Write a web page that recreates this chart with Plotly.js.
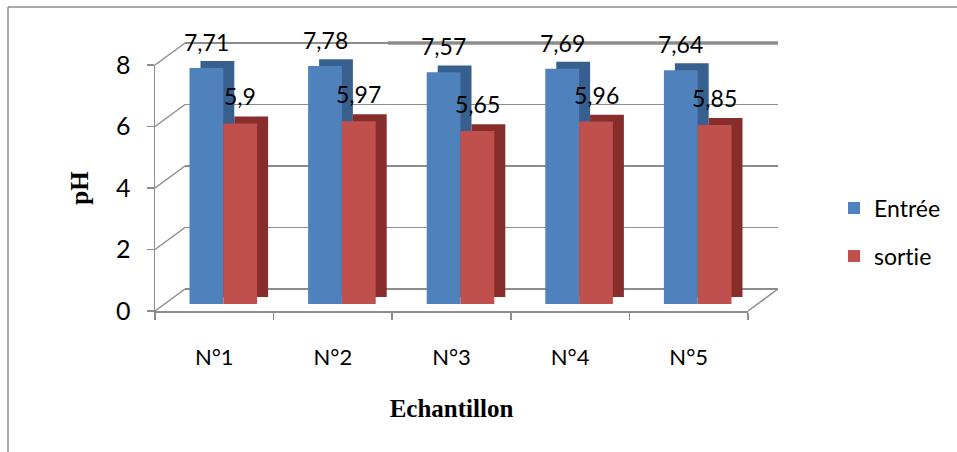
<!DOCTYPE html>
<html><head><meta charset="utf-8">
<script src="https://cdn.plot.ly/plotly-3.0.1.min.js"></script>
<style>html,body{margin:0;padding:0;background:#fff}#chart{width:957px;height:452px}
svg text{font-variant-ligatures:none;font-feature-settings:"liga" 0, "clig" 0;}</style>
</head><body><div id="chart"></div>
<script>
const categories = ['N°1', 'N°2', 'N°3', 'N°4', 'N°5'];
const entree = [7.71, 7.78, 7.57, 7.69, 7.64];
const sortie = [5.9, 5.97, 5.65, 5.96, 5.85];
const seriesNames = ['Entrée', 'sortie'];
const yTicks = [0, 2, 4, 6, 8];

const W = 957, H = 452;
const px = x => x / W, py = y => 1 - y / H;
// pseudo-3D geometry (pixels)
const front = {l: 155, r: 748, y0: 311, yTop: 65};
const back = {dx: 30, dy: 22};
const plane = {dx: 9, dy: 7};
const yMax = 8;
const unit = (front.y0 - front.yTop) / yMax;

const gridColor = '#8c8c8c';
const font = 'Lato, "Open Sans", sans-serif';
const serif = '"Liberation Serif", "Times New Roman", serif';
const colors = {entree: '#4f81bd', entreeSide: '#37608f', sortie: '#c0504d', sortieSide: '#872e2c'};

const bw = 0.285;                       // bar width (category units)
const catPx = (front.r - front.l) / categories.length;
const sideDx = 11 / catPx;              // depth offset of side face
const sideDy = 7 / unit;                // depth offset of top face

const fmt = v => String(v).replace('.', ',');

function shadow(vals, off, color) {
  return {type: 'bar', x: categories, y: vals, base: vals.map(() => sideDy),
    offset: off + sideDx, width: bw, xaxis: 'x3', yaxis: 'y3',
    marker: {color: color, line: {width: 0}}, showlegend: false, hoverinfo: 'skip'};
}
// empty traces so that the back-wall and front-axis subplots are drawn
const axisHolder = (xa, ya) => ({type: 'scatter', mode: 'markers', x: [], y: [], xaxis: xa, yaxis: ya,
  showlegend: false, hoverinfo: 'skip'});

const traces = [
  axisHolder('x', 'y'),
  axisHolder('x2', 'y2'),
  shadow(entree, -bw, colors.entreeSide),
  {type: 'bar', name: seriesNames[0], x: categories, y: entree, offset: -bw, width: bw,
   xaxis: 'x3', yaxis: 'y3', marker: {color: colors.entree, line: {width: 0}}, legend: 'legend'},
  shadow(sortie, 0, colors.sortieSide),
  {type: 'bar', name: seriesNames[1], x: categories, y: sortie, offset: 0, width: bw,
   xaxis: 'x3', yaxis: 'y3', marker: {color: colors.sortie, line: {width: 0}}, legend: 'legend2'}
];

const annotations = [];
categories.forEach((c, i) => {
  annotations.push({xref: 'x3', yref: 'y3', x: i - bw / 2, y: entree[i], text: fmt(entree[i]),
    showarrow: false, yanchor: 'middle', yshift: 26, font: {family: font, size: 23, color: '#000'}});
  annotations.push({xref: 'x3', yref: 'y3', x: i + bw / 2, y: sortie[i], text: fmt(sortie[i]),
    showarrow: false, yanchor: 'middle', yshift: 27, font: {family: font, size: 23, color: '#000'}});
});

const line = (x0, y0, x1, y1, w, c) => ({type: 'line', xref: 'paper', yref: 'paper', layer: 'below',
  x0: px(x0), y0: py(y0), x1: px(x1), y1: py(y1), line: {color: c || gridColor, width: w || 1.5}});
const shapes = [];
yTicks.forEach(v => {
  const fy = front.y0 - v * unit;
  shapes.push(line(front.l, fy, front.l + back.dx, fy - back.dy));
});
shapes.push(line(front.r, front.y0, front.r + back.dx, front.y0 - back.dy));
shapes.push(line(388, front.yTop - back.dy, front.r + back.dx, front.yTop - back.dy, 3.5, '#8f8f8f'));
// outer frame
shapes.push(line(8, 7, 8, 452, 1.5, '#8c8c8c'));
shapes.push(line(8, 7, 957, 7, 1.5, '#8c8c8c'));

// back wall axis padded so that the edge gridlines are kept
const pad = 0.3;
const layout = {
  width: W, height: H, autosize: false,
  margin: {l: 0, r: 0, t: 0, b: 0},
  paper_bgcolor: '#fff', plot_bgcolor: 'rgba(0,0,0,0)',
  barmode: 'overlay', hovermode: false,
  // back wall (gridlines)
  xaxis: {domain: [px(front.l + back.dx), px(front.r + back.dx)], range: [0, 1], anchor: 'y',
    showgrid: false, zeroline: false, showline: false, showticklabels: false, ticks: '', fixedrange: true},
  yaxis: {domain: [py(front.y0 - back.dy + pad * unit), py(front.yTop - back.dy - pad * unit)],
    range: [-pad, yMax + pad], anchor: 'x',
    tickvals: yTicks, showgrid: true, gridcolor: gridColor, gridwidth: 1.5,
    zeroline: true, zerolinecolor: gridColor, zerolinewidth: 1.5,
    showline: false, showticklabels: false, ticks: '', fixedrange: true},
  // front axes
  xaxis2: {domain: [px(front.l), px(front.r)], range: [-0.5, categories.length - 0.5], anchor: 'y2',
    tickvals: categories.map((c, i) => i), ticktext: categories, ticks: '', ticklabelstandoff: 26,
    minor: {tick0: -0.5, dtick: 1, ticks: 'outside', ticklen: 7, tickcolor: gridColor, tickwidth: 1.5, showgrid: false},
    showline: true, linecolor: gridColor, linewidth: 1.5, showgrid: false, zeroline: false,
    tickfont: {family: font, size: 22, color: '#000'},
    title: {text: 'Echantillon', standoff: 30, font: {family: serif, size: 25, color: '#000', weight: 'bold'}},
    fixedrange: true},
  yaxis2: {domain: [py(front.y0), py(front.yTop)], range: [0, yMax], anchor: 'x2',
    tickvals: yTicks, ticks: 'outside', ticklen: 7, tickcolor: gridColor, tickwidth: 1.5, ticklabelstandoff: 11,
    showline: true, linecolor: gridColor, linewidth: 1.5, showgrid: false, zeroline: false,
    tickfont: {family: font, size: 25, color: '#000'},
    title: {text: 'pH', standoff: 20, font: {family: serif, size: 25, color: '#000', weight: 'bold'}},
    fixedrange: true},
  // bar plane
  xaxis3: {domain: [px(front.l + plane.dx), px(front.r + plane.dx)], anchor: 'y3', type: 'category',
    categoryorder: 'array', categoryarray: categories, range: [-0.5, categories.length - 0.5],
    visible: false, fixedrange: true},
  yaxis3: {domain: [py(front.y0 - plane.dy), py(front.y0 - plane.dy - yMax * 30.6)], range: [0, yMax], anchor: 'x3',
    visible: false, fixedrange: true},
  legend: {x: px(834), y: py(208), xanchor: 'left', yanchor: 'middle', bgcolor: 'rgba(0,0,0,0)',
    font: {family: font, size: 23, color: '#000'}},
  legend2: {x: px(834), y: py(256), xanchor: 'left', yanchor: 'middle', bgcolor: 'rgba(0,0,0,0)',
    font: {family: font, size: 23, color: '#000'}},
  shapes: shapes,
  annotations: annotations
};

Plotly.newPlot('chart', traces, layout, {displayModeBar: false, staticPlot: true});
</script>
</body></html>
